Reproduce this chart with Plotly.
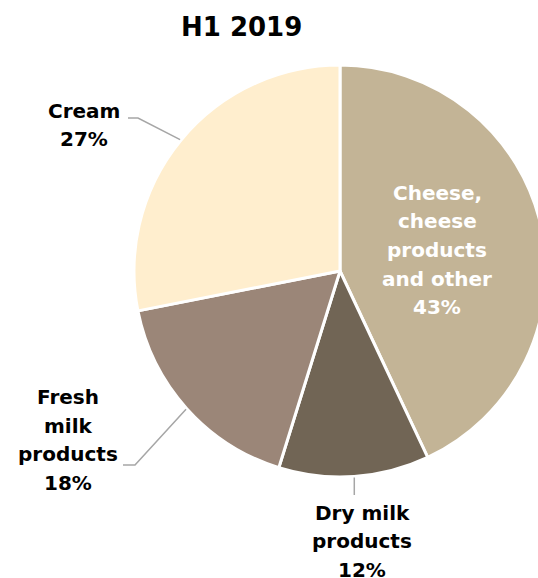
import numpy as np
import plotly.graph_objects as go

# ---------------- data ----------------
categories = ["Cheese, cheese products and other", "Dry milk products",
              "Fresh milk products", "Cream"]
label_lines = [["Cheese,", "cheese", "products", "and other"],
               ["Dry milk", "products"],
               ["Fresh", "milk", "products"],
               ["Cream"]]
share_labels = ["43%", "12%", "18%", "27%"]          # printed labels
slice_sizes = [43.0, 11.8, 17.1, 28.1]               # slice sizes
colors = ["#C3B496", "#716555", "#9B8678", "#FFEECE"]
title_text = "H1 2019"

# ---------------- layout constants (pixels) ----------------
W, H = 548, 578
CX, CY, R = 340, 271, 206
FONT = "DejaVu Sans"
FS = 20
LINE_H = 28.5
LEADER_COLOR = "#A6A6A6"

def px(x):
    return x / W

def py(y):
    return 1 - y / H

# label block centres and leader elbows (pixels), per slice
label_style = [
    dict(cx=437, cy=250, color="white", leader=None),
    dict(cx=362, cy=541, color="black", leader=[("v", 495)]),
    dict(cx=68, cy=440, color="black", leader=[(135, 465), (123, 465)]),
    dict(cx=84, cy=125, color="black", leader=[(138, 118), (128, 118)]),
]

fig = go.Figure()
fig.add_trace(go.Pie(
    labels=categories,
    values=slice_sizes,
    sort=False,
    direction="clockwise",
    rotation=0,
    marker=dict(colors=colors, line=dict(color="white", width=3)),
    textinfo="none",
    hoverinfo="label+percent",
    showlegend=False,
    domain=dict(x=[px(CX - R), px(CX + R)], y=[py(CY + R), py(CY - R)]),
))

annotations = []
shapes = []
sizes = np.array(slice_sizes, dtype=float)
cum = np.cumsum(sizes)
mid_deg = (cum - sizes / 2) / sizes.sum() * 360.0

for i, st in enumerate(label_style):
    lines = label_lines[i] + [share_labels[i]]
    n = len(lines)
    for k, txt in enumerate(lines):
        yk = st["cy"] + (k - (n - 1) / 2) * LINE_H
        annotations.append(dict(
            x=px(st["cx"]), y=py(yk), xref="paper", yref="paper",
            text=txt, showarrow=False, xanchor="center", yanchor="middle",
            font=dict(family=FONT, size=FS, color=st["color"], weight=700),
        ))
    if st["leader"]:
        a = np.deg2rad(mid_deg[i])
        x0 = CX + (R + 1) * np.sin(a)
        y0 = CY - (R + 1) * np.cos(a)
        pts = [(x0, y0)]
        for p in st["leader"]:
            if p[0] == "v":
                pts.append((x0, p[1]))
            else:
                pts.append(p)
        path = "M " + " L ".join(f"{px(x):.5f},{py(y):.5f}" for x, y in pts)
        shapes.append(dict(type="path", path=path, xref="paper", yref="paper",
                           line=dict(color=LEADER_COLOR, width=1.5)))

annotations.append(dict(
    x=px(241), y=py(27), xref="paper", yref="paper", text=title_text,
    showarrow=False, xanchor="center", yanchor="middle",
    font=dict(family=FONT, size=26, color="black", weight=700),
))

fig.update_layout(
    width=W, height=H,
    margin=dict(l=0, r=0, t=0, b=0),
    paper_bgcolor="white", plot_bgcolor="white",
    annotations=annotations, shapes=shapes,
)

fig.write_html(
    "out.html",
    post_script="document.body.style.margin='0';"
                "document.body.style.overflow='hidden';"
                "document.documentElement.style.overflow='hidden';",
)
